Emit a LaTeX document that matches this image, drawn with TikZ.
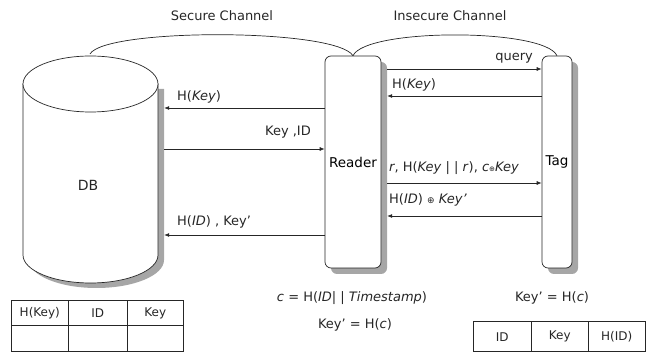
\documentclass[tikz,border=0pt]{standalone}
\usepackage{fontspec}
\setmainfont{DejaVu Sans}
\usetikzlibrary{arrows.meta,calc}
\begin{document}
\begin{tikzpicture}[x=1pt,y=1pt,
  line/.style={draw=black!85, line width=0.7pt},
  arr/.style={line, -{Latex[length=5pt,width=4pt]}},
  lbl/.style={inner sep=0pt, text=black!85, font=\fontsize{13}{15}\selectfont},
  entity/.style={draw=black!85, line width=0.7pt, fill=white, rounded corners=6pt, inner sep=0pt, font=\fontsize{13.5}{15}\selectfont},
  shadowbox/.style={fill=black!35, rounded corners=6pt, inner sep=0pt},
  cell/.style={draw=black!85, line width=0.6pt, inner sep=0pt, anchor=south west, text=black!85, font=\fontsize{12}{14}\selectfont}
]
\useasboundingbox (0,0) rectangle (653,353);

% DB cylinder
\fill[black!35] (29,264) -- (29,93) arc[start angle=180,end angle=360,x radius=67.5pt,y radius=28pt] -- (164,264) -- cycle;
\filldraw[line, fill=white] (23,269) -- (23,98) arc[start angle=180,end angle=360,x radius=67.5pt,y radius=28pt] -- (158,269) -- cycle;
\filldraw[line, fill=white] (90.5,269) ellipse[x radius=67.5pt, y radius=28pt];
\node[inner sep=0pt, minimum width=141pt, minimum height=227pt] (dbbox) at (93.5,183.5) {};
\node[lbl, font=\fontsize{14}{16}\selectfont] (db) at (88,168) {DB};
\coordinate (dbtop) at (90,299);

% Reader and Tag
\node[shadowbox, minimum width=56pt, minimum height=212pt] (readersh) at (359,185) {};
\node[entity, minimum width=56pt, minimum height=212pt] (reader) at (353,191) {Reader};
\node[shadowbox, minimum width=30pt, minimum height=212pt] (tagsh) at (563,185) {};
\node[entity, minimum width=30pt, minimum height=212pt] (tag) at (557,191) {Tag};

% channels
\draw[line] (dbtop) .. controls (105,325) and (335,325) .. (reader.north);
\draw[line] (reader.north) .. controls (366,325) and (544,325) .. (tag.north);
\node[lbl] (sc) at (222,337) {Secure Channel};
\node[lbl] (ic) at (450,337) {Insecure Channel};

% levels
\coordinate (l1) at (0,245);
\coordinate (l2) at (0,204);
\coordinate (l3) at (0,118);
\coordinate (q1) at (0,284);
\coordinate (q2) at (0,257);
\coordinate (q3) at (0,170);
\coordinate (q4) at (0,137);

\draw[arr] (reader.west |- l1) -- (dbbox.east |- l1);
\draw[arr] (dbbox.east |- l2) -- (reader.west |- l2);
\draw[arr] (reader.west |- l3) -- (dbbox.east |- l3);
\draw[arr] (readersh.east |- q1) -- (tag.west |- q1);
\draw[arr] (tag.west |- q2) -- (readersh.east |- q2);
\draw[arr] (readersh.east |- q3) -- (tag.west |- q3);
\draw[arr] (tag.west |- q4) -- (readersh.east |- q4);

\node[lbl, anchor=west] (t1) at (177,256) {H(\textit{Key})};
\node[lbl, anchor=east] (t2) at (311,221) {Key ,ID};
\node[lbl, anchor=west] (t3) at (177,131) {H(\textit{ID}) , Key'};
\node[lbl, anchor=east] (t4) at (533,295) {query};
\node[lbl, anchor=west] (t5) at (392,268) {H(\textit{Key})};
\node[lbl, anchor=west] (t6) at (389,185) {\textit{r}, H(\textit{Key} | | \textit{r}), \textit{c}{\scriptsize ⊕}\textit{Key}};
\node[lbl, anchor=west] (t7) at (389,153) {H(\textit{ID}) {\small ⊕} \textit{Key'}};

% formulas
\node[lbl] (f1) at (352,55) {\textit{c} = H(\textit{ID}| | \textit{Timestamp})};
\node[lbl] (f2) at (355,28) {Key' = H(\textit{c})};
\node[lbl] (f3) at (552,55) {Key' = H(\textit{c})};

% left table
\node[cell, minimum width=57pt, minimum height=25pt] (a1) at (11,27) {H(Key)};
\node[cell, minimum width=59pt, minimum height=25pt] (a2) at (68,27) {ID};
\node[cell, minimum width=56pt, minimum height=25pt] (a3) at (127,27) {Key};
\node[cell, minimum width=57pt, minimum height=26pt] (b1) at (11,1) {};
\node[cell, minimum width=59pt, minimum height=26pt] (b2) at (68,1) {};
\node[cell, minimum width=56pt, minimum height=26pt] (b3) at (127,1) {};

% right table
\node[cell, minimum width=58pt, minimum height=30pt] (c1) at (473,1) {ID};
\node[cell, minimum width=57pt, minimum height=30pt] (c2) at (531,1) {Key};
\node[cell, minimum width=57pt, minimum height=30pt] (c3) at (588,1) {H(ID)};
\end{tikzpicture}
\end{document}
